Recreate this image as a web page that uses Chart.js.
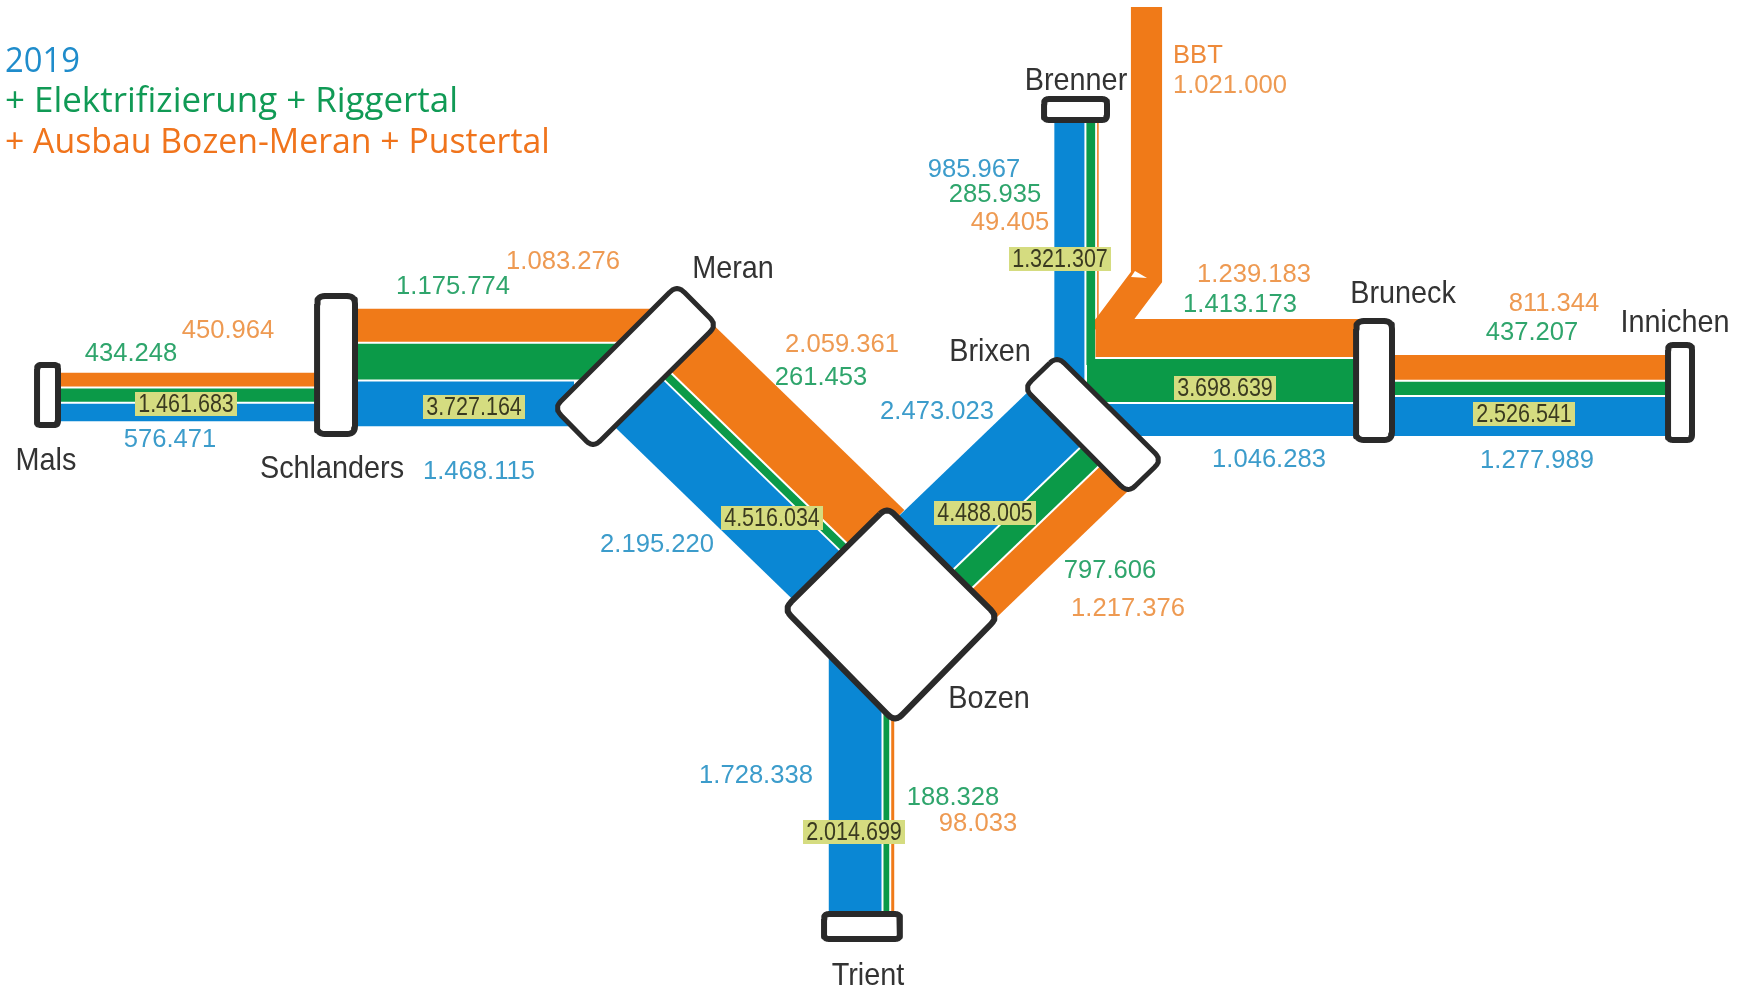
<!DOCTYPE html>
<html>
<head>
<meta charset="utf-8">
<title>Bahnnetz Suedtirol</title>
<script src="https://cdn.jsdelivr.net/npm/chart.js@4/dist/chart.umd.js"></script>
<style>
  html, body { margin: 0; padding: 0; background: #fff; }
  canvas { display: block; }
</style>
</head>
<body>
<canvas id="flow" width="1742" height="991"></canvas>
<script>
// passengers per line section
const sections = ['Mals-Schlanders', 'Schlanders-Meran', 'Meran-Bozen', 'Bozen-Trient', 'Bozen-Brixen', 'Brixen-Brenner', 'Brixen-Bruneck', 'Bruneck-Innichen'];
const blueValues = [576471, 1468115, 2195220, 1728338, 2473023, 985967, 1046283, 1277989];
const greenValues = [434248, 1175774, 261453, 188328, 797606, 285935, 1413173, 437207];
const orangeValues = [450964, 1083276, 2059361, 98033, 1217376, 49405, 1239183, 811344];
const totalValues = [1461683, 3727164, 4516034, 2014699, 4488005, 1321307, 3698639, 2526541];
const bbtValue = 1021000;

const legendLines = ['2019', '+ Elektrifizierung + Riggertal', '+ Ausbau Bozen-Meran + Pustertal'];
const stationNames = ['Mals', 'Schlanders', 'Meran', 'Bozen', 'Trient', 'Brixen', 'Brenner', 'Bruneck', 'Innichen'];

// layout, in picture pixels. axis of each bundle: x1, y1, x2, y2
const sectionAxes = [
  [45, 397, 335, 397],
  [340, 367.5, 680, 367.5],
  [658, 370, 855, 561],
  [861.5, 640, 861.5, 925],
  [936, 578, 1092, 428],
  [1076.5, 110, 1076.5, 400],
  [1075, 377.5, 1375, 377.5],
  [1375, 395.5, 1680, 395.5]
];
// how far each band is cut back along the axis: [blue, green, orange] start, then end
const trimStart = [[0,0,0],[0,0,0],[0,0,0],[0,0,0],[0,0,0],[0,0,0],[25,12,20.5],[0,0,0]];
const trimEnd = [[0,0,0],[106,55,15],[0,0,0],[0,0,0],[0,0,0],[0,35,70],[0,0,0],[0,0,0]];
// which side of the axis blue starts on, seen across the bundle
const blueSide = [1, 1, 1, 1, -1, 1, 1, 1];

const bbtPath = [[1146.5, 7], [1146.5, 277], [1103, 335]];
const bbtNotch = [[1135, 271], [1147, 278], [1131, 277], [1135, 271]];

const stationCorners = [
  [[37,365],[58,365],[58,425],[37,425]],
  [[317,296],[355,296],[355,434],[317,434]],
  [[677,285],[717,325],[593,448],[554,408]],
  [[887,507],[998,617],[895,722],[784,609]],
  [[824,914],[900,914],[900,939],[824,939]],
  [[1057,356],[1162,460],[1128,493],[1024,388]],
  [[1044,99],[1107,99],[1107,120],[1044,120]],
  [[1356,321],[1392,321],[1392,440],[1356,440]],
  [[1668,345],[1692,345],[1692,440],[1668,440]]
];
const stationRadius = [4, 8, 10, 10, 5, 10, 5, 8, 5];

const bluePos = [[170,440],[479,472],[657,545],[756,776],[937,412],[974,170],[1269,460],[1537,461]];
const greenPos = [[131,354],[453,287],[821,378],[953,798],[1110,571],[995,195],[1240,305],[1532,333]];
const orangePos = [[228,331],[563,262],[842,345],[978,824],[1128,609],[1010,223],[1254,275],[1554,304]];
const totalPos = [[186,405],[474,408],[772,519],[854,833],[985,514],[1060,260],[1225,389],[1524,415]];
const namePos = [[46,461],[332,469],[733,269],[989,699],[868,976],[990,352],[1076,81],[1403,294],[1675,323]];
const legendPos = [[5,62],[5,102],[5,143]];
const legendSqueeze = [0.97, 1.033, 1];

const BLUE = '#0a87d4', GREEN = '#0b9a48', ORANGE = '#f07a18';
const PX_PER_PASSENGER = 3.05e-5;
const GAP = 2;

function fmt(n) {
  return String(n).replace(/\B(?=(\d{3})+$)/g, '.');
}

function bandDataset(points, color, width) {
  return {
    data: points.map(p => ({ x: p[0], y: p[1] })),
    showLine: true, pointRadius: 0, tension: 0,
    borderColor: color, borderWidth: width,
    borderCapStyle: 'butt', borderJoinStyle: 'miter',
    fill: false
  };
}

// rounds off a polygon by sampling each corner, closes the outline
function roundedOutline(corners, r) {
  const out = [];
  const n = corners.length;
  for (let i = 0; i < n; i++) {
    const c = corners[i], a = corners[(i + n - 1) % n], b = corners[(i + 1) % n];
    const la = Math.hypot(a[0] - c[0], a[1] - c[1]), lb = Math.hypot(b[0] - c[0], b[1] - c[1]);
    const p0 = [c[0] + (a[0] - c[0]) * r / la, c[1] + (a[1] - c[1]) * r / la];
    const p2 = [c[0] + (b[0] - c[0]) * r / lb, c[1] + (b[1] - c[1]) * r / lb];
    for (let k = 0; k <= 6; k++) {
      const t = k / 6, u = 1 - t;
      out.push([u * u * p0[0] + 2 * u * t * c[0] + t * t * p2[0], u * u * p0[1] + 2 * u * t * c[1] + t * t * p2[1]]);
    }
  }
  out.push(out[0]);
  return out;
}

const datasets = [];

// BBT first so the section bands sit on it
datasets.push(bandDataset(bbtPath, ORANGE, bbtValue * PX_PER_PASSENGER));
datasets.push(Object.assign(bandDataset(bbtNotch, '#ffffff', 0), { fill: 'shape', backgroundColor: '#ffffff' }));

sections.forEach((name, i) => {
  const [x1, y1, x2, y2] = sectionAxes[i];
  const len = Math.hypot(x2 - x1, y2 - y1);
  const dx = (x2 - x1) / len, dy = (y2 - y1) / len;
  // normal pointing to the blue side
  const nx = -dy * blueSide[i], ny = dx * blueSide[i];
  const widths = [blueValues[i], greenValues[i], orangeValues[i]].map(v => v * PX_PER_PASSENGER);
  const total = widths[0] + widths[1] + widths[2] + 2 * GAP;
  let off = total / 2;
  [BLUE, GREEN, ORANGE].forEach((color, k) => {
    const o = off - widths[k] / 2;
    off -= widths[k] + GAP;
    const s = trimStart[i][k], e = trimEnd[i][k];
    datasets.push(bandDataset([
      [x1 + dx * s + nx * o, y1 + dy * s + ny * o],
      [x2 - dx * e + nx * o, y2 - dy * e + ny * o]
    ], color, widths[k]));
  });
});

stationNames.forEach((name, i) => {
  datasets.push({
    label: name,
    data: roundedOutline(stationCorners[i], stationRadius[i]).map(p => ({ x: p[0], y: p[1] })),
    showLine: true, pointRadius: 0, tension: 0,
    borderColor: '#2a2a2a', borderWidth: i === 2 || i === 5 ? 5 : 6,
    borderJoinStyle: 'round',
    backgroundColor: '#ffffff', fill: 'shape'
  });
});

// later datasets go on top
datasets.forEach((d, i) => { d.order = datasets.length - i; });

const labelPlugin = {
  id: 'flowLabels',
  afterDatasetsDraw(chart) {
    const ctx = chart.ctx;
    const sx = chart.scales.x, sy = chart.scales.y;
    const put = (text, pos, font, color, squeeze, align) => {
      ctx.save();
      ctx.font = font;
      ctx.fillStyle = color;
      ctx.textBaseline = 'middle';
      ctx.textAlign = align || 'center';
      ctx.translate(sx.getPixelForValue(pos[0]), sy.getPixelForValue(pos[1]));
      ctx.scale(squeeze, 1);
      ctx.fillText(text, 0, 0);
      ctx.restore();
    };
    const valueFont = '25.6px "Liberation Sans"';
    blueValues.forEach((v, i) => put(fmt(v), bluePos[i], valueFont, '#3c9ccb', 1));
    greenValues.forEach((v, i) => put(fmt(v), greenPos[i], valueFont, '#2fa56c', 1));
    orangeValues.forEach((v, i) => put(fmt(v), orangePos[i], valueFont, '#ee9a52', 1));
    put('BBT', [1173, 56], valueFont, '#ee8a3a', 1, 'left');
    put(fmt(bbtValue), [1173, 86], valueFont, '#ee9a52', 1, 'left');

    totalValues.forEach((v, i) => {
      const x = sx.getPixelForValue(totalPos[i][0]), y = sy.getPixelForValue(totalPos[i][1] - 1);
      ctx.fillStyle = '#d5dc80';
      ctx.fillRect(x - 51, y - 12, 102, 24);
      put(fmt(v), totalPos[i], '25px "Liberation Sans"', '#3a3a20', 0.86);
    });

    stationNames.forEach((n, i) => put(n, namePos[i], '32px "Liberation Sans"', '#333333', 0.9));

    const legendColors = ['#1f8ccb', '#109a55', '#f0741c'];
    legendLines.forEach((t, i) => put(t, legendPos[i], '33.8px "Open Sans"', legendColors[i], legendSqueeze[i], 'left'));
  }
};

new Chart(document.getElementById('flow').getContext('2d'), {
  type: 'scatter',
  data: { datasets: datasets },
  options: {
    responsive: false,
    animation: false,
    layout: { padding: 0 },
    plugins: { legend: { display: false }, tooltip: { enabled: false } },
    scales: {
      x: { type: 'linear', display: false, min: 0, max: 1742 },
      y: { type: 'linear', display: false, min: 0, max: 991, reverse: true }
    }
  },
  plugins: [labelPlugin]
});
</script>
</body>
</html>
